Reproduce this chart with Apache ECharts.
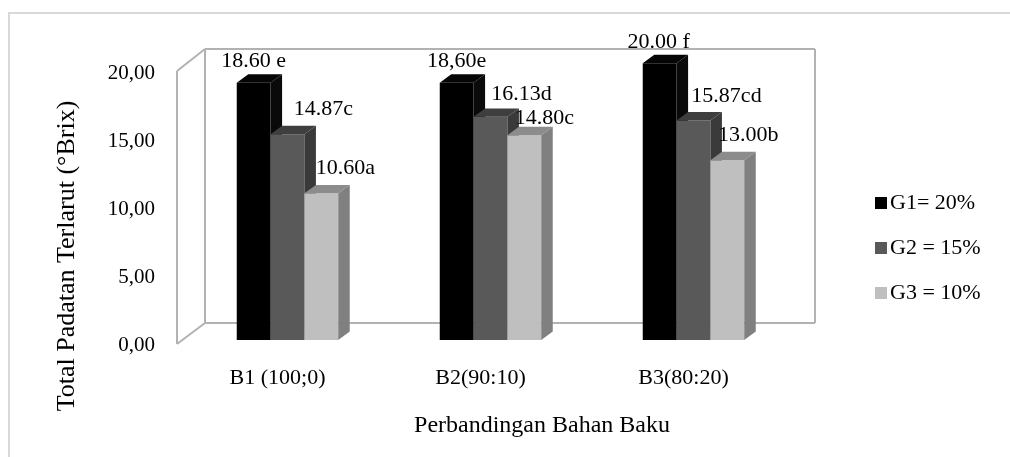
<!DOCTYPE html>
<html>
<head>
<meta charset="utf-8">
<script src="https://cdn.jsdelivr.net/npm/echarts@6/dist/echarts.min.js"></script>
<style>
  html, body { margin: 0; padding: 0; background: #fff; }
  #chart { width: 1010px; height: 457px; }
</style>
</head>
<body>
<div id="chart"></div>
<script>
// Chart data
const categories = ['B1 (100;0)', 'B2(90:10)', 'B3(80:20)'];
const seriesNames = ['G1= 20%', 'G2 = 15%', 'G3 = 10%'];
const g1Values = [18.60, 18.60, 20.00];
const g2Values = [14.87, 16.13, 15.87];
const g3Values = [10.60, 14.80, 13.00];
const g1Labels = ['18.60 e', '18,60e', '20.00 f'];
const g2Labels = ['14.87c', '16.13d', '15.87cd'];
const g3Labels = ['10.60a', '14.80c', '13.00b'];
const yMin = 0, yMax = 20, yStep = 5;
const xTitle = 'Perbandingan Bahan Baku';
const yTitle = 'Total Padatan Terlarut (°Brix)';

// Styling
const FONT = "'Liberation Serif', 'Times New Roman', serif";
const faceColors = [
  { front: '#000000', top: '#050505', side: '#0a0a0a' },
  { front: '#595959', top: '#3e3e3e', side: '#3a3a3a' },
  { front: '#bfbfbf', top: '#8c8c8c', side: '#808080' }
];
// label nudges relative to the top-centre of each bar's front face
const labelNudge = [
  [[0, -21], [0, -21], [-1, -21]],
  [[36, -25], [31, -23], [33, -24]],
  [[24, -25], [20, -17], [21, -25]]
];
const WALL = '#b2b2b2';

// Box frame (front plane / back plane)
const FRONT_L = 177, FRONT_T = 71, FRONT_B = 344;
const BACK_L = 205, BACK_R = 815, BACK_T = 49, BACK_B = 323;

const allValues = [g1Values, g2Values, g3Values];
const allLabels = [g1Labels, g2Labels, g3Labels];

function renderBar(params, api) {
  const s = params.seriesIndex;
  const i = api.value(0);
  const v = api.value(1);
  const base = api.coord([i, 0]);
  const top = api.coord([i, v]);
  const band = api.size([1, 0])[0];
  const bw = band / 6;
  const dx = bw * 0.34, dy = -bw * 0.25;
  const xL = base[0] - 1.5 * bw + s * bw;
  const xR = xL + bw;
  const yB = base[1], yT = top[1];
  const c = faceColors[s];
  const nudge = labelNudge[s][i];
  return {
    type: 'group',
    children: [
      { type: 'rect', shape: { x: xL, y: yT, width: bw, height: yB - yT },
        style: { fill: c.front } },
      { type: 'polygon', shape: { points: [[xL, yT], [xL + dx, yT + dy], [xR + dx, yT + dy], [xR, yT]] },
        style: { fill: c.top } },
      { type: 'polygon', shape: { points: [[xR, yT], [xR + dx, yT + dy], [xR + dx, yB + dy], [xR, yB]] },
        style: { fill: c.side } },
      { type: 'text', z2: 100,
        style: { text: allLabels[s][i], x: xL + bw / 2 + nudge[0], y: yT + nudge[1],
                 align: 'center', verticalAlign: 'middle', fill: '#000',
                 font: '22px ' + FONT } }
    ]
  };
}

const chart = echarts.init(document.getElementById('chart'), null, { renderer: 'canvas' });

const frameLines = [
  [[FRONT_L, FRONT_T], [FRONT_L, FRONT_B]],
  [[FRONT_L, FRONT_T], [BACK_L, BACK_T]],
  [[FRONT_L, FRONT_B], [BACK_L, BACK_B]],
  [[BACK_L, BACK_T], [BACK_L, BACK_B]],
  [[BACK_L, BACK_T], [BACK_R, BACK_T]],
  [[BACK_R, BACK_T], [BACK_R, BACK_B]],
  [[BACK_L, BACK_B], [BACK_R, BACK_B]]
];

chart.setOption({
  backgroundColor: '#ffffff',
  animation: false,
  textStyle: { fontFamily: FONT },
  grid: [
    { left: 176, right: 225, top: 73, bottom: 112 },
    { left: 186, right: 215, top: 63.3, bottom: 117 }
  ],
  xAxis: [
    { type: 'category', gridIndex: 0, data: categories,
      axisLine: { show: false }, axisTick: { show: false },
      axisLabel: { margin: 22, color: '#000', fontSize: 22, fontFamily: FONT } },
    { type: 'category', gridIndex: 1, data: categories, show: false }
  ],
  yAxis: [
    { type: 'value', gridIndex: 0, min: yMin, max: yMax, interval: yStep,
      axisLine: { show: false }, axisTick: { show: false }, splitLine: { show: false },
      axisLabel: { margin: 21, color: '#000', fontSize: 21, fontFamily: FONT,
                   formatter: v => v.toFixed(2).replace('.', ',') } },
    { type: 'value', gridIndex: 1, min: yMin, max: yMax, show: false, splitLine: { show: false } }
  ],
  legend: {
    orient: 'vertical', left: 875, top: 191, padding: 0,
    itemWidth: 12, itemHeight: 12, itemGap: 21, icon: 'rect',
    textStyle: { color: '#000', fontSize: 22, fontFamily: FONT, lineHeight: 24, padding: [0, 0, 0, -2] },
    data: seriesNames
  },
  title: {
    text: xTitle, left: 542, top: 414, textAlign: 'center', padding: 0,
    textStyle: { color: '#000', fontSize: 24, fontWeight: 'normal', fontFamily: FONT }
  },
  graphic: [
    { type: 'polyline', z: -10, silent: true,
      shape: { points: [[9, 457], [9, 13], [1010, 13]] },
      style: { stroke: '#d9d9d9', lineWidth: 2, fill: null } },
    ...frameLines.map(pts => ({
      type: 'polyline', z: -5, silent: true,
      shape: { points: pts },
      style: { stroke: WALL, lineWidth: 2, fill: null }
    })),
    { type: 'text', x: 67, y: 256, rotation: Math.PI / 2, silent: true,
      style: { text: yTitle, align: 'center', verticalAlign: 'middle',
               fill: '#000', font: '26px ' + FONT } }
  ],
  series: seriesNames.map((name, s) => ({
    type: 'custom',
    name: name,
    xAxisIndex: 1, yAxisIndex: 1,
    itemStyle: { color: faceColors[s].front },
    renderItem: renderBar,
    encode: { x: 0, y: 1 },
    data: allValues[s].map((v, i) => [i, v])
  }))
});
</script>
</body>
</html>
